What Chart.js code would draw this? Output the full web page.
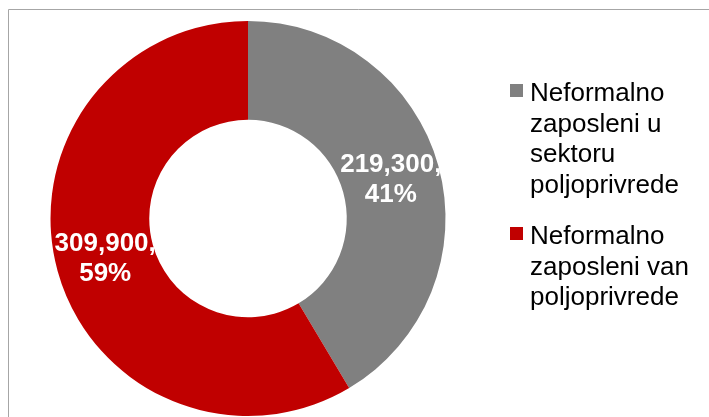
<!DOCTYPE html>
<html>
<head>
  <title>Neformalno zaposleni</title>
  <script src="https://cdn.jsdelivr.net/npm/chart.js/dist/chart.umd.js"></script>
  <style>
    html, body { margin: 0; padding: 0; overflow: hidden; background: #fff; }
    #wrap { width: 709px; height: 417px; }
  </style>
</head>
<body>
  <div id="wrap"><canvas id="pie-chart"></canvas></div>
  <script>
    // data
    const categories = [
      ['Neformalno', 'zaposleni u', 'sektoru', 'poljoprivrede'],
      ['Neformalno', 'zaposleni van', 'poljoprivrede']
    ];
    const values = [219300, 309900];
    const percents = ['41%', '59%'];
    const colors = ['#808080', '#C00000'];

    const fmt = v => v.toLocaleString('en-US');

    // frame line on the top and left edge
    const framePlugin = {
      id: 'frame',
      beforeDraw(chart) {
        const c = chart.ctx;
        c.save();
        c.strokeStyle = '#a6a6a6';
        c.lineWidth = 1;
        c.beginPath();
        c.moveTo(8.5, chart.height);
        c.lineTo(8.5, 9.5);
        c.lineTo(chart.width, 9.5);
        c.stroke();
        c.restore();
      }
    };

    // value + percent labels inside each slice
    const labelPlugin = {
      id: 'sliceLabels',
      afterDatasetsDraw(chart) {
        const c = chart.ctx;
        const meta = chart.getDatasetMeta(0);
        c.save();
        c.fillStyle = '#fff';
        c.font = 'bold 26px "Liberation Sans", Arial, sans-serif';
        c.textAlign = 'center';
        c.textBaseline = 'middle';
        meta.data.forEach((arc, i) => {
          const p = arc.getCenterPoint();
          c.fillText(fmt(values[i]) + ',', p.x, p.y - 14);
          c.fillText(percents[i], p.x, p.y + 16);
        });
        c.restore();
      }
    };

    // legend on the right with wrapped labels
    const legendPlugin = {
      id: 'sideLegend',
      afterDraw(chart) {
        const c = chart.ctx;
        c.save();
        c.font = '26px "Liberation Sans", Arial, sans-serif';
        c.textBaseline = 'alphabetic';
        c.textAlign = 'left';
        let y = 101;
        categories.forEach((lines, i) => {
          c.fillStyle = colors[i];
          c.fillRect(510, y - 17, 13, 13);
          c.fillStyle = '#000';
          lines.forEach((ln, j) => {
            c.fillText(ln, 530, y + j * 30.5);
          });
          y += lines.length * 30.5 + 21;
        });
        c.restore();
      }
    };

    const ctx = document.getElementById('pie-chart').getContext('2d');
    new Chart(ctx, {
      type: 'doughnut',
      data: {
        labels: categories,
        datasets: [{
          data: values,
          backgroundColor: colors,
          borderWidth: 0
        }]
      },
      options: {
        responsive: true,
        maintainAspectRatio: false,
        animation: false,
        cutout: '50%',
        layout: { padding: { left: 50, right: 263, top: 21, bottom: 1 } },
        plugins: {
          legend: { display: false },
          tooltip: { enabled: false }
        }
      },
      plugins: [framePlugin, labelPlugin, legendPlugin]
    });
  </script>
</body>
</html>
